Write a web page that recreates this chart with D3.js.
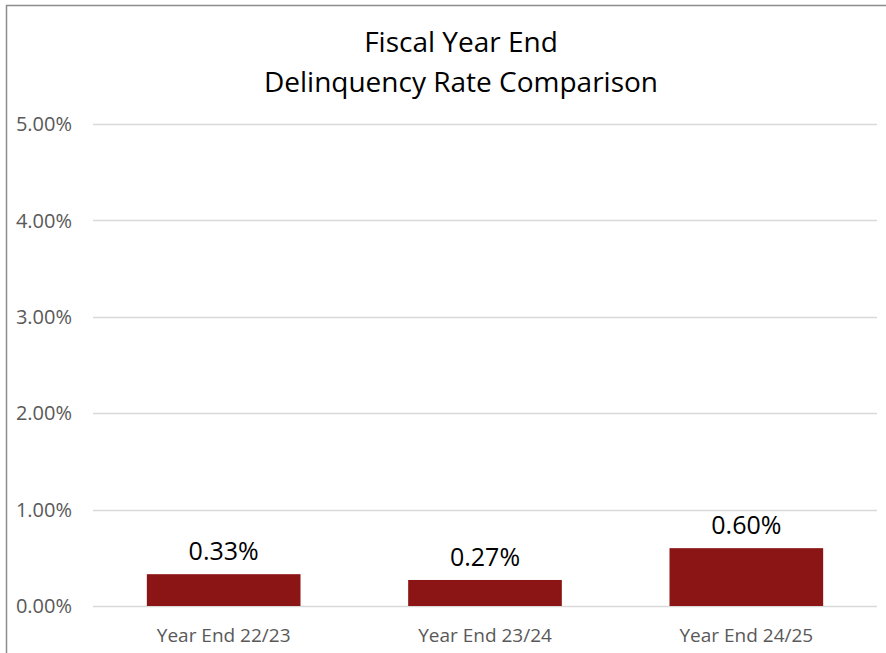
<!DOCTYPE html>
<style>
body { margin: 0; background: #fff; }
svg { font-family: "Open Sans", sans-serif; display: block; }
</style>
<svg width="886" height="653"></svg>
<script src="https://d3js.org/d3.v7.min.js"></script>
<script>

var categories = ["Year End 22/23", "Year End 23/24", "Year End 24/25"];
var rates = [0.0033, 0.0027, 0.0060];
var ticks = [0, 0.01, 0.02, 0.03, 0.04, 0.05];
var titleLines = ["Fiscal Year End", "Delinquency Rate Comparison"];

var svg = d3.select("svg");

var margin = {left: 93, right: 9, top: 124, bottom: 47};
var width = 886 - margin.left - margin.right,
    height = 653 - margin.top - margin.bottom;

// frame (top and left edges only show in the crop)
svg.append("path")
    .attr("d", "M6.5,653V5.5H886")
    .attr("fill", "none")
    .attr("stroke", "#8c8c8c")
    .attr("stroke-width", 1.5);

var x = d3.scaleBand()
    .domain(categories)
    .range([margin.left, margin.left + width])
    .paddingInner(0.412)
    .paddingOuter(0.206);

var y = d3.scaleLinear()
    .domain([0, 0.05])
    .range([margin.top + height, margin.top]);

var fmt = d3.format(".2%");

// gridlines
svg.append("g")
  .selectAll("line")
  .data(ticks)
  .join("line")
    .attr("x1", margin.left)
    .attr("x2", margin.left + width)
    .attr("y1", function(d) { return Math.round(y(d)) + 0.5; })
    .attr("y2", function(d) { return Math.round(y(d)) + 0.5; })
    .attr("stroke", "#d9d9d9")
    .attr("stroke-width", 1.3);

// y tick labels
svg.append("g")
  .selectAll("text")
  .data(ticks)
  .join("text")
    .attr("x", 72)
    .attr("y", function(d) { return y(d); })
    .attr("dy", "0.36em")
    .attr("text-anchor", "end")
    .attr("fill", "#595959")
    .style("font-size", "20px")
    .text(fmt);

// bars
svg.append("g")
  .selectAll("rect")
  .data(rates)
  .join("rect")
    .attr("x", function(d, i) { return x(categories[i]); })
    .attr("width", x.bandwidth())
    .attr("y", function(d) { return y(d); })
    .attr("height", function(d) { return y(0) - y(d); })
    .attr("fill", "#8b1414");

// data labels
svg.append("g")
  .selectAll("text")
  .data(rates)
  .join("text")
    .attr("x", function(d, i) { return x(categories[i]) + x.bandwidth() / 2; })
    .attr("y", function(d) { return y(d) - 14; })
    .attr("text-anchor", "middle")
    .attr("fill", "#000")
    .style("font-size", "25px")
    .text(fmt);

// category labels
svg.append("g")
  .selectAll("text")
  .data(categories)
  .join("text")
    .attr("x", function(d) { return x(d) + x.bandwidth() / 2; })
    .attr("y", y(0) + 36)
    .attr("text-anchor", "middle")
    .attr("fill", "#595959")
    .style("font-size", "19px")
    .text(function(d) { return d; });

// title
svg.append("text")
    .attr("text-anchor", "middle")
    .attr("fill", "#000")
    .style("font-size", "28px")
  .selectAll("tspan")
  .data(titleLines)
  .join("tspan")
    .attr("x", 461)
    .attr("y", function(d, i) { return 52 + i * 40; })
    .text(function(d) { return d; });

</script>
